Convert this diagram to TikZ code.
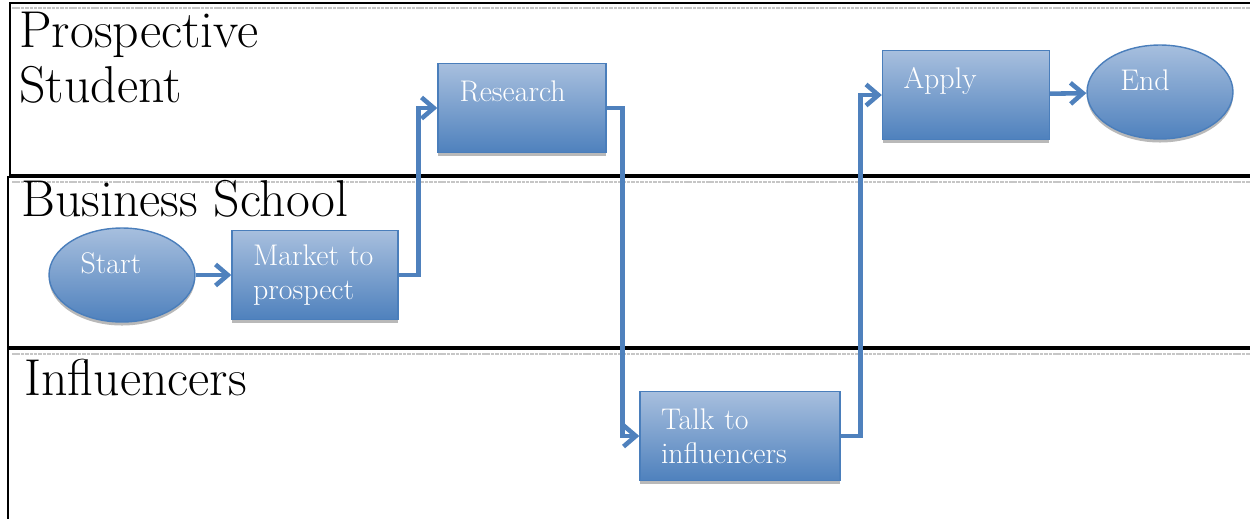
\documentclass[tikz,border=0pt]{standalone}
\usepackage{tikz}
\usetikzlibrary{positioning,shapes.geometric,arrows.meta,shadows}
\definecolor{boxtop}{HTML}{A7BFDE}
\definecolor{boxbot}{HTML}{4F81BD}
\definecolor{boxline}{HTML}{4A7EBB}

\tikzset{
  lane/.style={draw=black,line width=1.3pt},
  laneshade/.style={draw=gray!45,line width=1.2pt,dash pattern=on 2pt off 0.5pt},
  lanetitle/.style={anchor=north west,align=left,inner sep=0pt,font=\fontsize{29.5}{31}\selectfont},
  stepbox/.style={rectangle,draw=boxline,line width=0.8pt,top color=boxtop,bottom color=boxbot,
    text=white,minimum height=1.78cm,inner xsep=0pt,align=left,font=\fontsize{17}{19.5}\selectfont,
    drop shadow={shadow xshift=0pt,shadow yshift=-2pt,fill=gray!55,opacity=1}},
  terminal/.style={ellipse,draw=boxline,line width=0.8pt,top color=boxtop,bottom color=boxbot,
    text=white,minimum width=2.92cm,minimum height=1.88cm,inner sep=0pt,
    text height=0.7em,text depth=0.32cm,font=\fontsize{17}{19.5}\selectfont,
    drop shadow={shadow xshift=0pt,shadow yshift=-2pt,fill=gray!55,opacity=1}},
  flow/.style={draw=boxbot,line width=2.6pt,-{Straight Barb[length=7pt,width=12pt]}},
}

\begin{document}
\begin{tikzpicture}[x=0.02cm,y=-0.02cm]
  \useasboundingbox (0,0) rectangle (1250,518);
  \clip (0,0) rectangle (1250,518);
  % swim lanes
  \foreach \y in {8,182,354} \draw [laneshade] (12,\y) -- (1270,\y);
  \draw [lane] (10,3) rectangle (1270,175);
  \draw [lane] (8,177) rectangle (1270,347);
  \draw [lane] (8,540) -- (8,349) -- (1270,349);
  \node [lanetitle] (student) at (19,12) {Prospective\\Student};
  \node [lanetitle] (school) at (21,180) {Business School};
  \node [lanetitle] (influencers) at (24,359) {Influencers};
  % steps
  \node [terminal] (start) at (122,275) {Start\hspace*{0.44cm}};
  \node [stepbox][minimum width=3.32cm,text width=2.48cm] (market) at (315,275) {Market to\\prospect};
  \node [stepbox][minimum width=3.36cm,text width=2.5cm] (research) at (522,108) {Research\\\mbox{}};
  \node [stepbox][minimum width=4cm,text width=3.16cm] (talk) at (740,436) {Talk to\\influencers};
  \node [stepbox][minimum width=3.34cm,text width=2.5cm] (apply) at (966,95) {Apply\\\mbox{}};
  \node [terminal] (end) at (1160,92) {End\hspace*{0.6cm}};
  % connectors
  \draw [flow] (start) -- (market);
  \draw [flow] (market.east) -- ++(20,0) |- (research.west);
  \draw [flow] (research.east) -- ++(16,0) |- (talk.west);
  \draw [flow] (talk.east) -- ++(20,0) |- (apply.west);
  \draw [flow] (apply) -- (end);
\end{tikzpicture}
\end{document}
